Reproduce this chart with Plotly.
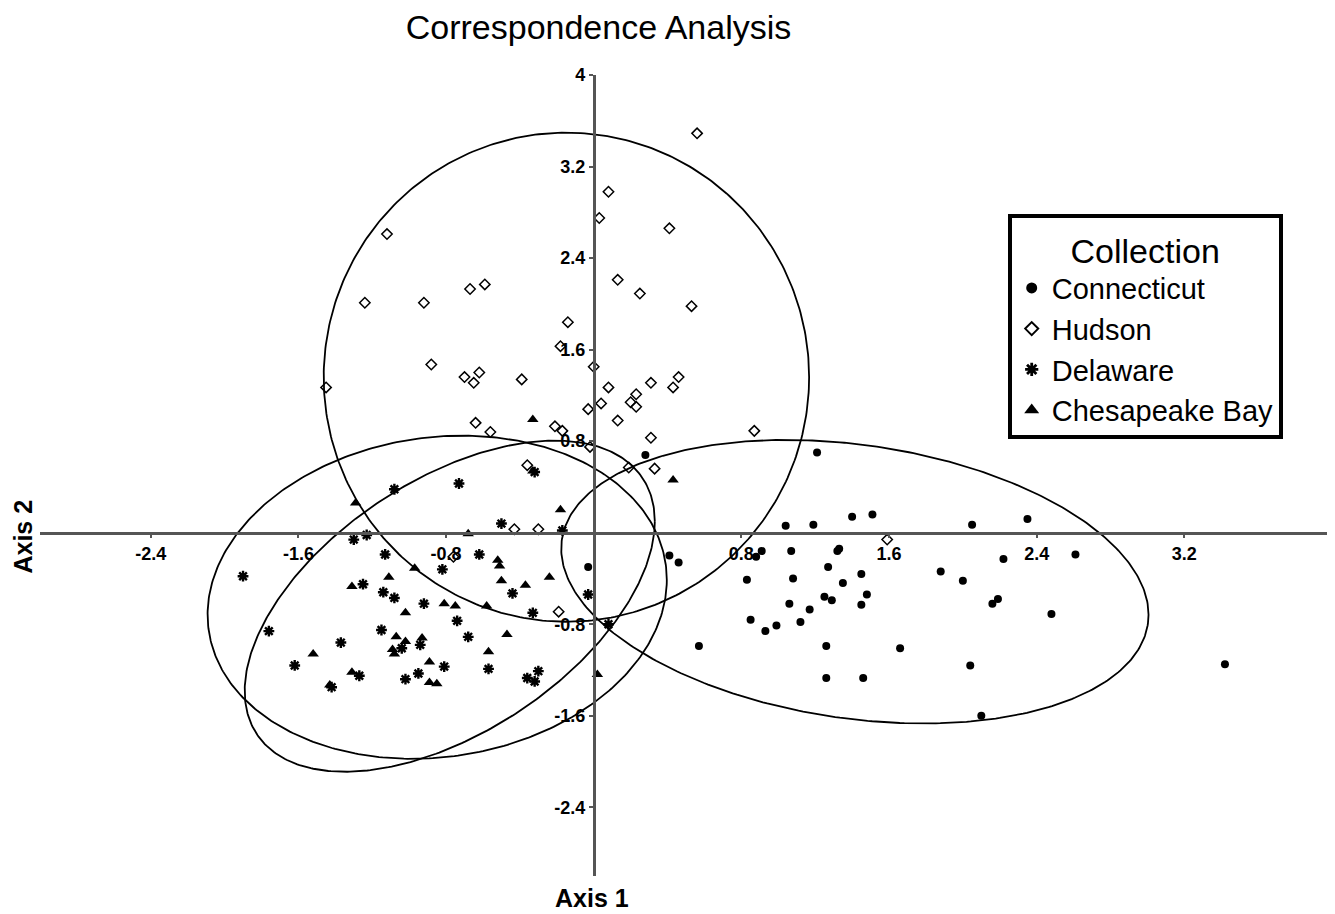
import numpy as np
import plotly.graph_objects as go

# ---------------- data ----------------
conn_x = [0.28, 1.21, 1.04, 1.19, 1.40, 1.51, 2.05, 2.35, 0.91, 0.88, 1.07, 1.33, 1.32, 2.22, 2.61,
          0.41, 0.46, -0.03, 1.27, 1.45, 1.88, 2.00, 0.83, 1.08, 1.35, 1.25, 1.29, 1.48, 1.06, 1.45,
          1.17, 2.19, 2.16, 2.48, 0.85, 0.99, 1.12, 0.93, 0.57, 1.26, 1.66, 2.04, 3.42, 1.26, 1.46, 2.10]
conn_y = [0.68, 0.70, 0.06, 0.07, 0.14, 0.16, 0.07, 0.12, -0.16, -0.21, -0.16, -0.14, -0.16, -0.23, -0.19,
          -0.20, -0.26, -0.30, -0.30, -0.36, -0.34, -0.42, -0.41, -0.40, -0.44, -0.56, -0.59, -0.54, -0.62, -0.63,
          -0.67, -0.58, -0.62, -0.71, -0.76, -0.81, -0.78, -0.86, -0.99, -0.99, -1.01, -1.16, -1.15, -1.27, -1.27, -1.60]

huds_x = [0.56, 0.08, 0.03, 0.41, 0.13, 0.25, 0.53, -0.14, 0.00, 0.08, 0.31, 0.43, 0.46, 0.23, 0.04,
          0.20, 0.23, -0.03, 0.13, 0.87, 0.31, -0.17, -0.02, 0.19, 0.33,
          -1.12, -1.24, -0.92, -0.67, -0.59, -0.88, -1.45, -0.70, -0.65, -0.62, -0.39, -0.64, -0.56, -0.21,
          -0.18, -0.36, -0.43, -0.30, -0.19, -0.76, 1.59]
huds_y = [3.49, 2.98, 2.75, 2.66, 2.21, 2.09, 1.98, 1.84, 1.45, 1.27, 1.31, 1.27, 1.36, 1.21, 1.13,
          1.14, 1.10, 1.08, 0.98, 0.89, 0.83, 0.89, 0.75, 0.57, 0.56,
          2.61, 2.01, 2.01, 2.13, 2.17, 1.47, 1.27, 1.36, 1.31, 1.40, 1.34, 0.96, 0.88, 0.93,
          1.63, 0.59, 0.03, 0.03, -0.69, -0.21, -0.06]

dela_x = [-1.08, -0.73, -0.32, -1.30, -1.23, -0.50, -0.17, -1.13, -0.82, -0.62, -1.90, -1.25, -1.14, -1.08,
          -0.92, -0.44, -0.33, -0.74, -0.68, -1.76, -1.15, -1.37, -1.62, -1.04, -0.94, -0.81, -0.57, -0.30,
          -0.36, -0.32, -1.27, -1.42, -1.02, -0.95, -0.03, 0.08]
dela_y = [0.38, 0.43, 0.53, -0.06, -0.02, 0.08, 0.02, -0.19, -0.32, -0.19, -0.38, -0.45, -0.52, -0.57,
          -0.62, -0.53, -0.70, -0.77, -0.91, -0.86, -0.85, -0.96, -1.16, -1.01, -0.98, -1.17, -1.19, -1.21,
          -1.27, -1.30, -1.25, -1.35, -1.28, -1.23, -0.54, -0.80]

ches_x = [-1.29, -0.68, -0.18, -0.97, -0.52, -0.51, -1.11, -1.31, -0.50, -0.37, -0.24, -1.02, -0.81, -0.75,
          -0.58, -1.07, -1.02, -0.93, -1.09, -1.08, -0.47, -0.57, -1.52, -0.89, -1.31, -1.43, -0.89, -0.85,
          0.02, 0.43, -0.33, -0.33]
ches_y = [0.26, -0.01, 0.20, -0.31, -0.24, -0.29, -0.39, -0.47, -0.42, -0.46, -0.39, -0.70, -0.62, -0.64,
          -0.64, -0.91, -0.95, -0.92, -1.02, -1.06, -0.89, -1.04, -1.06, -1.13, -1.22, -1.33, -1.31, -1.32,
          -1.24, 0.46, 0.99, 0.54]

# ellipse parameters (Connecticut, Hudson, Delaware, Chesapeake Bay)
ell_cx = [1.415, -0.148, -0.848, -0.780]
ell_cy = [-0.428, 1.359, -0.564, -0.642]
ell_sx = [1.591, 1.315, 1.244, 1.111]
ell_sy = [1.239, 2.137, 1.412, 1.447]
ell_rho = [-0.233, 0.0, 0.108, 0.512]

tick_vals = [-2.4, -1.6, -0.8, 0.8, 1.6, 2.4, 3.2, 4]
tick_text = ["-2.4", "-1.6", "-0.8", "0.8", "1.6", "2.4", "3.2", "4"]

FONT = "Liberation Sans, Arial, Helvetica, sans-serif"

fig = go.Figure()

t = np.linspace(0, 2 * np.pi, 400)
for cx, cy, sx, sy, r in zip(ell_cx, ell_cy, ell_sx, ell_sy, ell_rho):
    ex = cx + sx * np.cos(t)
    ey = cy + sy * (r * np.cos(t) + np.sqrt(1 - r * r) * np.sin(t))
    fig.add_trace(go.Scatter(x=ex, y=ey, mode="lines", line=dict(color="black", width=1.8),
                             showlegend=False, hoverinfo="skip"))

series = [
    ("Connecticut", conn_x, conn_y, dict(symbol="circle", size=8, color="black"),
     dict(symbol="circle", size=11, color="black")),
    ("Hudson", huds_x, huds_y, dict(symbol="diamond-open", size=8, color="black", line=dict(width=1.5)),
     dict(symbol="diamond-open", size=10, color="black", line=dict(width=2))),
    ("Delaware", dela_x, dela_y, dict(symbol="asterisk-open", size=9, color="black", line=dict(width=2.4)),
     dict(symbol="asterisk-open", size=11, color="black", line=dict(width=2.8))),
    ("Chesapeake Bay", ches_x, ches_y, dict(symbol="triangle-up", size=10, color="black"),
     dict(symbol="triangle-up", size=13, color="black")),
]
for name, xs, ys, mk, lmk in series:
    fig.add_trace(go.Scatter(x=xs, y=ys, mode="markers", name=name, marker=mk, showlegend=False))
for name, xs, ys, mk, lmk in series:
    fig.add_trace(go.Scatter(x=[None], y=[None], mode="markers", name=name, marker=lmk, showlegend=True))

axis_common = dict(showgrid=False, zeroline=False, showline=True, linecolor="#555555", linewidth=2.5,
                   ticks="outside", ticklen=4, tickcolor="#555555", tickwidth=1.5,
                   tickmode="array", tickvals=tick_vals, ticktext=tick_text,
                   tickfont=dict(family=FONT, size=18, color="black", weight="bold"),
                   anchor="free", position=3 / 7)

fig.update_layout(
    width=1327, height=906,
    margin=dict(l=32, r=3, t=67, b=38),
    paper_bgcolor="white", plot_bgcolor="white",
    title=dict(text="Correspondence Analysis", x=0.445, xanchor="center", y=0.979, yanchor="middle",
               font=dict(family=FONT, size=34, color="black")),
    xaxis=dict(range=[-3, 4], **axis_common),
    yaxis=dict(range=[-3, 4], **axis_common),
    legend=dict(x=0.749, y=0.826, xanchor="left", yanchor="top",
                bgcolor="white", bordercolor="black", borderwidth=4,
                font=dict(family=FONT, size=29, color="black"),
                title=dict(text="Collection", side="top center",
                           font=dict(family=FONT, size=34, color="black")),
                itemsizing="trace"),
    annotations=[
        dict(text="<b>Axis 1</b>", x=0.427, y=-0.028, xref="paper", yref="paper",
             xanchor="center", yanchor="middle", showarrow=False,
             font=dict(family=FONT, size=25, color="black")),
        dict(text="<b>Axis 2</b>", x=-0.013, y=0.424, xref="paper", yref="paper",
             xanchor="center", yanchor="middle", showarrow=False, textangle=-90,
             font=dict(family=FONT, size=25, color="black")),
    ],
)

fig.write_html("out.html")
